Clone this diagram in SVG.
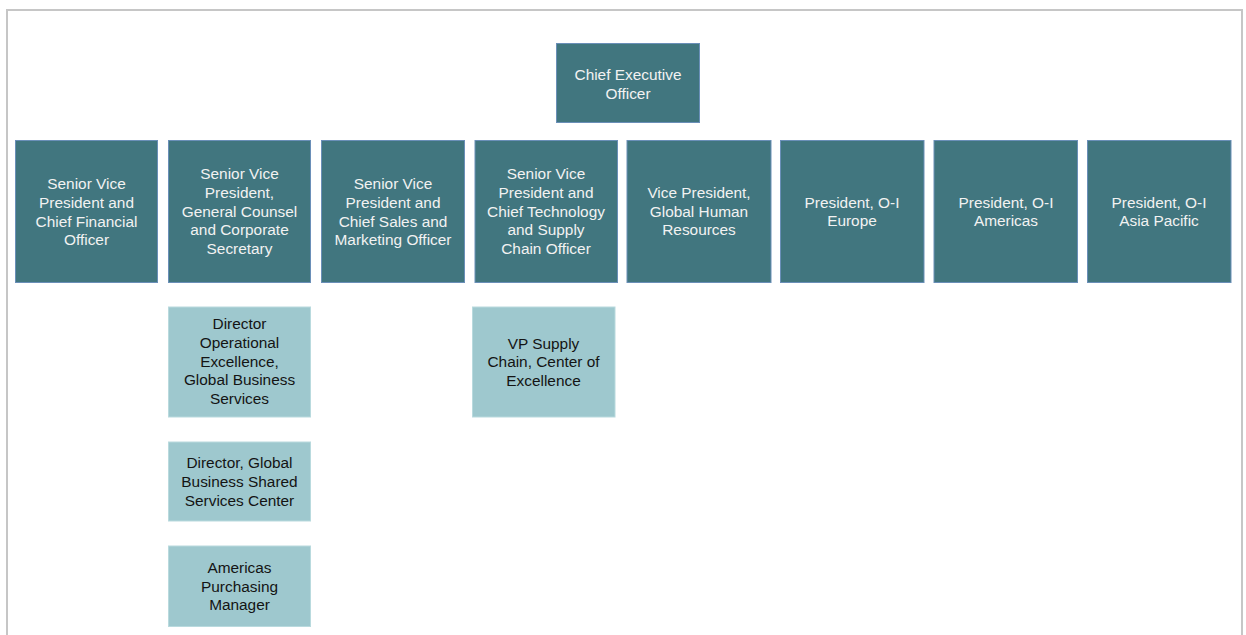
<svg xmlns="http://www.w3.org/2000/svg" width="1246" height="635" viewBox="0 0 1246 635">
  <style>
    .frame { fill: #ffffff; stroke: #c6c6c6; stroke-width: 2; }
    .exec { fill: #41767f; stroke: #6a8fb8; stroke-width: 1; }
    .staff { fill: #9ec8ce; stroke: #b9dade; stroke-width: 1; }
    text { font-family: "Liberation Sans", Arial, sans-serif; font-size: 15.4px; text-anchor: middle; }
    .exec-t { fill: #f2f2f2; }
    .staff-t { fill: #141414; }
  </style>

  <!-- page frame -->
  <rect class="frame" x="7" y="10" width="1235" height="640"/>

  <!-- reporting lines (none drawn in this chart) -->
  <g id="connectors"></g>

  <!-- top level -->
  <g id="ceo">
    <rect class="exec" x="556.5" y="43.5" width="143" height="79"/>
    <text class="exec-t" x="628" y="80.3">Chief Executive</text>
    <text class="exec-t" x="628" y="99">Officer</text>
  </g>

  <!-- direct reports -->
  <g id="svp-cfo">
    <rect class="exec" x="15.5" y="140.5" width="142" height="142"/>
    <text class="exec-t" x="86.5" y="189.3">Senior Vice</text>
    <text class="exec-t" x="86.5" y="208">President and</text>
    <text class="exec-t" x="86.5" y="226.7">Chief Financial</text>
    <text class="exec-t" x="86.5" y="245.4">Officer</text>
  </g>

  <g id="svp-gc">
    <rect class="exec" x="168.5" y="140.5" width="142" height="142"/>
    <text class="exec-t" x="239.5" y="179.3">Senior Vice</text>
    <text class="exec-t" x="239.5" y="198">President,</text>
    <text class="exec-t" x="239.5" y="216.7">General Counsel</text>
    <text class="exec-t" x="239.5" y="235.4">and Corporate</text>
    <text class="exec-t" x="239.5" y="254.1">Secretary</text>
  </g>

  <g id="svp-sales">
    <rect class="exec" x="321.5" y="140.5" width="143" height="142"/>
    <text class="exec-t" x="393" y="189.3">Senior Vice</text>
    <text class="exec-t" x="393" y="208">President and</text>
    <text class="exec-t" x="393" y="226.7">Chief Sales and</text>
    <text class="exec-t" x="393" y="245.4">Marketing Officer</text>
  </g>

  <g id="svp-cto">
    <rect class="exec" x="475" y="140.5" width="142.5" height="142"/>
    <text class="exec-t" x="546" y="179.3">Senior Vice</text>
    <text class="exec-t" x="546" y="198">President and</text>
    <text class="exec-t" x="546" y="216.7">Chief Technology</text>
    <text class="exec-t" x="546" y="235.4">and Supply</text>
    <text class="exec-t" x="546" y="254.1">Chain Officer</text>
  </g>

  <g id="vp-hr">
    <rect class="exec" x="627" y="140.5" width="144" height="142"/>
    <text class="exec-t" x="699" y="198">Vice President,</text>
    <text class="exec-t" x="699" y="216.7">Global Human</text>
    <text class="exec-t" x="699" y="235.4">Resources</text>
  </g>

  <g id="pres-europe">
    <rect class="exec" x="780.5" y="140.5" width="143.5" height="142"/>
    <text class="exec-t" x="852" y="207.7">President, O-I</text>
    <text class="exec-t" x="852" y="226.4">Europe</text>
  </g>

  <g id="pres-americas">
    <rect class="exec" x="934" y="140.5" width="143.5" height="142"/>
    <text class="exec-t" x="1006" y="207.7">President, O-I</text>
    <text class="exec-t" x="1006" y="226.4">Americas</text>
  </g>

  <g id="pres-apac">
    <rect class="exec" x="1087.5" y="140.5" width="143.5" height="142"/>
    <text class="exec-t" x="1159" y="207.7">President, O-I</text>
    <text class="exec-t" x="1159" y="226.4">Asia Pacific</text>
  </g>

  <!-- second level under general counsel -->
  <g id="dir-opex">
    <rect class="staff" x="168.5" y="307" width="142" height="110"/>
    <text class="staff-t" x="239.5" y="329.3">Director</text>
    <text class="staff-t" x="239.5" y="348">Operational</text>
    <text class="staff-t" x="239.5" y="366.7">Excellence,</text>
    <text class="staff-t" x="239.5" y="385.4">Global Business</text>
    <text class="staff-t" x="239.5" y="404.1">Services</text>
  </g>

  <g id="dir-gbssc">
    <rect class="staff" x="168.5" y="442" width="142" height="79"/>
    <text class="staff-t" x="239.5" y="468.3">Director, Global</text>
    <text class="staff-t" x="239.5" y="487">Business Shared</text>
    <text class="staff-t" x="239.5" y="505.7">Services Center</text>
  </g>

  <g id="americas-purchasing">
    <rect class="staff" x="168.5" y="546" width="142" height="80.5"/>
    <text class="staff-t" x="239.5" y="573">Americas</text>
    <text class="staff-t" x="239.5" y="591.7">Purchasing</text>
    <text class="staff-t" x="239.5" y="610.4">Manager</text>
  </g>

  <!-- second level under technology / supply chain -->
  <g id="vp-supply-coe">
    <rect class="staff" x="472.5" y="307" width="142.5" height="110"/>
    <text class="staff-t" x="543.5" y="348.7">VP Supply</text>
    <text class="staff-t" x="543.5" y="367.4">Chain, Center of</text>
    <text class="staff-t" x="543.5" y="386.1">Excellence</text>
  </g>
</svg>
